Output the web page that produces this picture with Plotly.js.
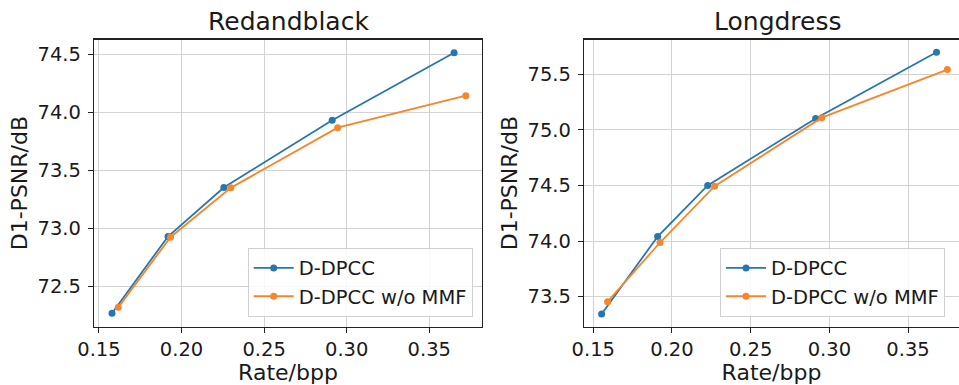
<!DOCTYPE html>
<html>
<head>
<meta charset="utf-8">
<script src="https://cdn.plot.ly/plotly-3.0.1.min.js"></script>
<style>html,body{margin:0;padding:0;background:#fff;}#chart{width:959px;height:385px;}</style>
</head>
<body>
<div id="chart"></div>
<script>
// Redandblack
const rbRateDPCC = [0.1579, 0.1918, 0.2256, 0.2912, 0.3650];
const rbPsnrDPCC = [72.265, 72.928, 73.351, 73.931, 74.514];
const rbRateNoMMF = [0.1617, 0.1933, 0.2298, 0.2945, 0.3721];
const rbPsnrNoMMF = [72.316, 72.922, 73.348, 73.868, 74.144];
// Longdress
const ldRateDPCC = [0.1553, 0.1909, 0.2227, 0.2913, 0.3681];
const ldPsnrDPCC = [73.344, 74.041, 74.500, 75.102, 75.698];
const ldRateNoMMF = [0.1591, 0.1924, 0.2271, 0.2952, 0.3750];
const ldPsnrNoMMF = [73.455, 73.987, 74.494, 75.110, 75.542];

const seriesNames = ["D-DPCC", "D-DPCC w/o MMF"];
const titles = ["Redandblack", "Longdress"];
const xTickVals = [0.15, 0.20, 0.25, 0.30, 0.35];
const xTickText = ["0.15", "0.20", "0.25", "0.30", "0.35"];
const rbYTickVals = [72.5, 73.0, 73.5, 74.0, 74.5];
const rbYTickText = ["72.5", "73.0", "73.5", "74.0", "74.5"];
const ldYTickVals = [73.5, 74.0, 74.5, 75.0, 75.5];
const ldYTickText = ["73.5", "74.0", "74.5", "75.0", "75.5"];

const BLUE = "#2776ad", ORANGE = "#f6862a";
const FONT = "DejaVu Sans, sans-serif";
const TXT = "#1a1a1a";

function tr(x, y, name, color, xa, ya, leg) {
  return {x: x, y: y, name: name, type: "scatter", mode: "lines+markers",
    line: {color: color, width: 1.8}, marker: {color: color, size: 7, symbol: "circle"},
    xaxis: xa, yaxis: ya, legend: leg};
}

const data = [
  tr(rbRateDPCC, rbPsnrDPCC, seriesNames[0], BLUE, "x", "y", "legend"),
  tr(rbRateNoMMF, rbPsnrNoMMF, seriesNames[1], ORANGE, "x", "y", "legend"),
  tr(ldRateDPCC, ldPsnrDPCC, seriesNames[0], BLUE, "x2", "y2", "legend2"),
  tr(ldRateNoMMF, ldPsnrNoMMF, seriesNames[1], ORANGE, "x2", "y2", "legend2")
];

const W = 959, H = 385;
const yDom = [1 - 326.7 / H, 1 - 39.5 / H];

function xax(domain, range, anchor) {
  return {domain: domain, range: range, anchor: anchor,
    tickvals: xTickVals, ticktext: xTickText,
    showgrid: true, gridcolor: "#d2d2d2", gridwidth: 1,
    showline: true, linecolor: "#222", linewidth: 1.2, mirror: true,
    ticks: "outside", ticklen: 5, tickcolor: "#222",
    tickfont: {family: FONT, size: 19.5, color: TXT},
    zeroline: false,
    title: {text: "Rate/bpp", font: {family: FONT, size: 22, color: TXT}, standoff: 5}};
}
function yax(domain, range, anchor, tv, tt) {
  return {domain: domain, range: range, anchor: anchor,
    tickvals: tv, ticktext: tt,
    showgrid: true, gridcolor: "#d2d2d2", gridwidth: 1,
    showline: true, linecolor: "#222", linewidth: 1.2, mirror: true,
    ticks: "outside", ticklen: 5, tickcolor: "#222", ticklabelstandoff: 3,
    tickfont: {family: FONT, size: 19.5, color: TXT},
    zeroline: false,
    title: {text: "D1-PSNR/dB", font: {family: FONT, size: 22, color: TXT}, standoff: 3}};
}

function legend(x, xanchor) {
  return {x: x, xanchor: xanchor, y: 1 - 316.7 / H, yanchor: "bottom",
    xref: "paper", yref: "paper",
    bgcolor: "rgba(255,255,255,0.85)", bordercolor: "#d0d0d0", borderwidth: 1,
    font: {family: FONT, size: 19.5, color: TXT}, tracegroupgap: 0, itemwidth: 40};
}

const layout = {
  width: W, height: H,
  margin: {l: 0, r: 0, t: 0, b: 0},
  paper_bgcolor: "#fff", plot_bgcolor: "#fff",
  font: {family: FONT, color: TXT},
  showlegend: true,
  xaxis: xax([94 / W, 482 / W], [0.1470, 0.3819], "y"),
  yaxis: yax(yDom, [72.149, 74.629], "x", rbYTickVals, rbYTickText),
  xaxis2: xax([584 / W, 1], [0.1441, 0.3824], "y2"),
  yaxis2: yax(yDom, [73.23, 75.8126], "x2", ldYTickVals, ldYTickText),
  legend: legend(472.7 / W, "right"),
  legend2: legend(720 / W, "left"),
  annotations: [
    {text: titles[0], xref: "paper", yref: "paper", x: 288 / W, y: 1 - 21 / H,
     xanchor: "center", yanchor: "middle", showarrow: false,
     font: {family: FONT, size: 25, color: TXT}},
    {text: titles[1], xref: "paper", yref: "paper", x: 777.5 / W, y: 1 - 21 / H,
     xanchor: "center", yanchor: "middle", showarrow: false,
     font: {family: FONT, size: 25, color: TXT}}
  ]
};

Plotly.newPlot("chart", data, layout, {displayModeBar: false, staticPlot: true});
</script>
</body>
</html>
